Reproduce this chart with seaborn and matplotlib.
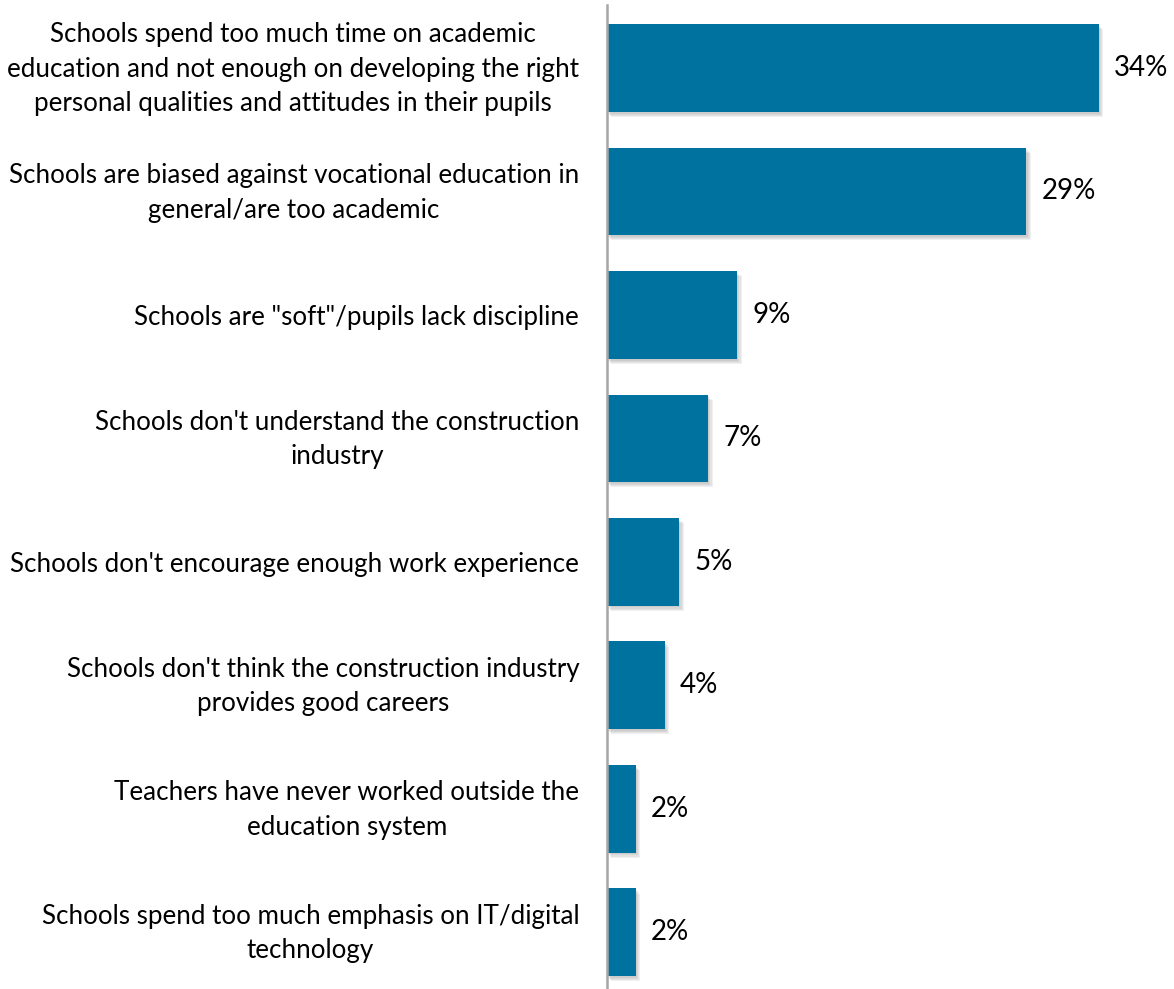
import matplotlib
matplotlib.use("Agg")
import matplotlib.pyplot as plt
import matplotlib.patheffects as pe
from matplotlib.transforms import ScaledTranslation
import seaborn as sns
import pandas as pd

categories = [
    "Schools spend too much time on academic\neducation and not enough on developing the right\npersonal qualities and attitudes in their pupils",
    "Schools are biased against vocational education in\ngeneral/are too academic",
    "Schools are \"soft\"/pupils lack discipline",
    "Schools don't understand the construction\nindustry",
    "Schools don't encourage enough work experience",
    "Schools don't think the construction industry\nprovides good careers",
    "Teachers have never worked outside the\neducation system",
    "Schools spend too much emphasis on IT/digital\ntechnology",
]
values = [34, 29, 9, 7, 5, 4, 2, 2]

df = pd.DataFrame({"reason": categories, "pct": values})

sns.set_theme(style="white")
plt.rcParams["font.family"] = ["Lato", "DejaVu Sans"]

fig = plt.figure(figsize=(11.74, 9.89), dpi=100)
ax = fig.add_axes([607 / 1174, 0.0, 1 - 607 / 1174, 1 - 5 / 989])

bar_color = "#0072A0"
sns.barplot(data=df, x="pct", y="reason", orient="h", color=bar_color,
            saturation=1, width=0.71, linewidth=0, edgecolor=bar_color, ax=ax)

# soft drop shadow built from a few offset translucent copies
shadow = [
    pe.SimplePatchShadow(offset=(o, -o - 0.5), shadow_rgbFace="#606060", alpha=0.09)
    for o in (0.8, 1.6, 2.4, 3.2)
]
for patch in ax.patches:
    patch.set_path_effects(shadow + [pe.Normal()])

ax.bar_label(ax.containers[0], labels=[f"{v}%" for v in values],
             padding=11, fontsize=20, color="#000000")

ax.set_xlim(0, 39.2)
ax.set_ylim(7.46, -0.51)
ax.set_xlabel("")
ax.set_ylabel("")
ax.set_xticks([])
ax.tick_params(axis="y", length=0, pad=20)
nudge_up = ScaledTranslation(0, 6 / 100, fig.dpi_scale_trans)
for lbl in ax.get_yticklabels():
    lbl.set_fontsize(18.7)
    lbl.set_multialignment("center")
    lbl.set_linespacing(1.48)
    lbl.set_color("#000000")
    if "\n" in lbl.get_text():
        lbl.set_transform(lbl.get_transform() + nudge_up)

for side in ["top", "right", "bottom"]:
    ax.spines[side].set_visible(False)
ax.spines["left"].set_color("#A6A6A6")
ax.spines["left"].set_linewidth(1.8)

fig.savefig("out.png", dpi=100)
